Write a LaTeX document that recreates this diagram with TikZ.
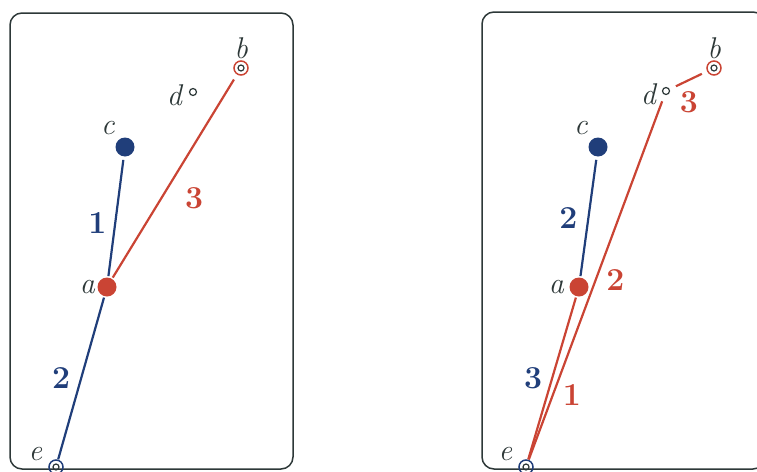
\documentclass[tikz,border=0pt]{standalone}
\usetikzlibrary{positioning}
\definecolor{ink}{RGB}{45,56,56}
\definecolor{edgeblue}{RGB}{32,62,122}
\definecolor{edgered}{RGB}{202,68,52}

\begin{document}
\begin{tikzpicture}[x=1pt, y=-1pt,
        panel/.style={draw=ink, line width=1.5pt, rounded corners=12pt},
        dotnode/.style={circle, inner sep=0pt, minimum size=19pt},
        bluedot/.style={dotnode, fill=edgeblue, outer sep=3.5pt},
        reddot/.style={dotnode, fill=edgered, outer sep=1.5pt},
        hollow/.style={circle, draw=ink, line width=1.2pt, inner sep=0pt, minimum size=7pt, outer sep=7.5pt},
        target/.style={circle, draw=#1, line width=1.5pt, inner sep=0pt, minimum size=14pt,
            path picture={\draw[ink, line width=1.2pt] (path picture bounding box.center) circle (3pt);}},
        ptlbl/.style={font=\itshape\fontsize{30}{33}\selectfont, text=ink, inner sep=1pt},
        bluelink/.style={draw=edgeblue, line width=2.2pt},
        redlink/.style={draw=edgered, line width=2.2pt},
        num/.style={font=\bfseries\fontsize{32}{36}\selectfont, inner sep=0pt}
    ]
        \clip (0,0) rectangle (757,471);
        % Panels
        \draw[panel] (10,13) rectangle (293,469);
        \draw[panel] (482,12) rectangle (765,469);

        % Left panel points
        \node[reddot, label={[ptlbl]left:a}] (aL) at (107,287) {};
        \node[target=edgered, outer sep=6.5pt, label={[ptlbl, label distance=-5pt]above:b}] (bL) at (241,68) {};
        \node[bluedot, label={[ptlbl, yshift=2pt]above left:c}] (cL) at (125,147) {};
        \node[hollow, label={[ptlbl, yshift=-3pt, xshift=1pt]left:d}] (dL) at (193,92) {};
        \node[target=edgeblue, outer sep=1pt, label={[ptlbl, xshift=-7pt, yshift=-1pt]above left:e}] (eL) at (56,467) {};

        % Left panel links
        \draw[bluelink] (cL) -- (aL) node[num, text=edgeblue, pos=0.54, xshift=-18pt] {1};
        \draw[redlink] (bL) -- (aL) node[num, text=edgered, pos=0.6, xshift=33pt] {3};
        \draw[bluelink] (aL) -- (eL) node[num, text=edgeblue, pos=0.5, xshift=-20pt] {2};

        % Right panel points
        \node[reddot, label={[ptlbl, xshift=-3pt]left:a}] (aR) at (579,287) {};
        \node[target=edgered, outer sep=6.5pt, label={[ptlbl, label distance=-5pt]above:b}] (bR) at (714,68) {};
        \node[bluedot, label={[ptlbl, yshift=2pt]above left:c}] (cR) at (598,147) {};
        \node[hollow, label={[ptlbl, yshift=-3pt, xshift=2pt]left:d}] (dR) at (666,91) {};
        \node[target=edgeblue, outer sep=1pt, label={[ptlbl, xshift=-7pt, yshift=-1pt]above left:e}] (eR) at (526,467) {};

        % Right panel links
        \draw[bluelink] (cR) -- (aR) node[num, text=edgeblue, pos=0.5, xshift=-20pt] {2};
        \draw[redlink] (bR) -- (dR) node[num, text=edgered, pos=0.5, yshift=-22pt] {3};
        \draw[redlink] (dR) -- (eR)
            node[num, text=edgered, pos=0.5, xshift=20pt] {2}
            node[num, text=edgered, pos=0.82, xshift=19pt] {1};
        \draw[redlink] (aR) -- (eR) node[num, text=edgeblue, pos=0.5, xshift=-19pt] {3};
    \end{tikzpicture}
\end{document}
